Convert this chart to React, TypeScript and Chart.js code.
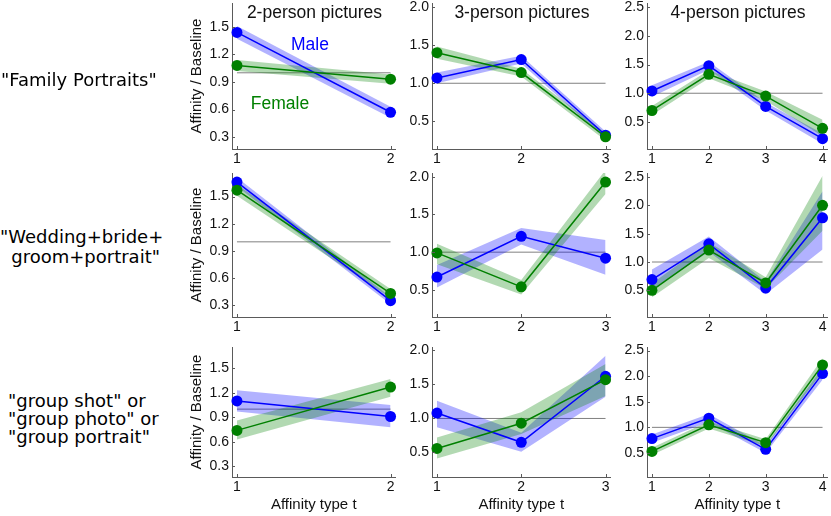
import React, { useEffect, useRef } from "react";
import { Chart, registerables } from "chart.js";

Chart.register(...registerables);

// ---------- text ----------
const rowLabels = [
  ['"Family Portraits"'],
  ['"Wedding+bride+', 'groom+portrait"'],
  ['"group shot" or', '"group photo" or', '"group portrait"'],
];
const colTitles = ["2-person pictures", "3-person pictures", "4-person pictures"];
const xTitle = "Affinity type t";
const yTitle = "Affinity / Baseline";
const maleLabel = "Male";
const femaleLabel = "Female";

// ---------- axes ----------
const xCategoriesByCol = [[1, 2], [1, 2, 3], [1, 2, 3, 4]];
const yTicksByCol = [
  [0.3, 0.6, 0.9, 1.2, 1.5],
  [0.5, 1.0, 1.5, 2.0],
  [0.5, 1.0, 1.5, 2.0, 2.5],
];
const yMinByCol = [0.17, 0.14, 0.03];
const yMaxByCol = [1.76, 2.05, 2.57];
const baselineValue = 1.0;

// ---------- "Family Portraits" ----------
const familyMale = [[1.44, 0.57], [1.07, 1.31, 0.32], [1.04, 1.48, 0.77, 0.21]];
const familyMaleLo = [[1.37, 0.51], [1.0, 1.26, 0.27], [0.94, 1.41, 0.7, 0.12]];
const familyMaleHi = [[1.51, 0.63], [1.14, 1.36, 0.37], [1.14, 1.55, 0.84, 0.3]];
const familyFemale = [[1.08, 0.93], [1.4, 1.14, 0.3], [0.7, 1.33, 0.95, 0.39]];
const familyFemaleLo = [[1.02, 0.88], [1.32, 1.09, 0.25], [0.62, 1.26, 0.87, 0.25]];
const familyFemaleHi = [[1.14, 0.98], [1.48, 1.19, 0.35], [0.78, 1.4, 1.03, 0.54]];

// ---------- "Wedding+bride+groom+portrait" ----------
const weddingMale = [[1.66, 0.35], [0.67, 1.21, 0.92], [0.69, 1.32, 0.54, 1.78]];
const weddingMaleLo = [[1.61, 0.31], [0.53, 1.1, 0.7], [0.52, 1.18, 0.43, 1.22]];
const weddingMaleHi = [[1.71, 0.39], [0.83, 1.32, 1.16], [0.87, 1.45, 0.65, 2.25]];
const weddingFemale = [[1.57, 0.43], [0.99, 0.54, 1.93], [0.5, 1.21, 0.63, 2.0]];
const weddingFemaleLo = [[1.51, 0.38], [0.84, 0.44, 1.77], [0.38, 1.07, 0.53, 1.55]];
const weddingFemaleHi = [[1.63, 0.48], [1.11, 0.63, 2.09], [0.62, 1.35, 0.73, 2.52]];

// ---------- "group shot / photo / portrait" ----------
const groupMale = [[1.1, 0.91], [1.08, 0.65, 1.62], [0.78, 1.18, 0.57, 2.05]];
const groupMaleLo = [[0.97, 0.78], [0.87, 0.51, 1.32], [0.7, 1.1, 0.5, 1.93]];
const groupMaleHi = [[1.23, 1.05], [1.26, 0.79, 1.92], [0.86, 1.26, 0.64, 2.17]];
const groupFemale = [[0.74, 1.27], [0.56, 0.93, 1.57], [0.53, 1.05, 0.7, 2.22]];
const groupFemaleLo = [[0.63, 1.15], [0.41, 0.77, 1.33], [0.46, 0.98, 0.63, 2.08]];
const groupFemaleHi = [[0.86, 1.37], [0.72, 1.09, 1.8], [0.6, 1.12, 0.77, 2.35]];

const maleByRow = [familyMale, weddingMale, groupMale];
const maleLoByRow = [familyMaleLo, weddingMaleLo, groupMaleLo];
const maleHiByRow = [familyMaleHi, weddingMaleHi, groupMaleHi];
const femaleByRow = [familyFemale, weddingFemale, groupFemale];
const femaleLoByRow = [familyFemaleLo, weddingFemaleLo, groupFemaleLo];
const femaleHiByRow = [familyFemaleHi, weddingFemaleHi, groupFemaleHi];

// ---------- layout / style ----------
const COLS = [
  { L: 232, R: 397 },
  { L: 432, R: 612 },
  { L: 647, R: 829 },
];
const ROWS = [
  { T: 3, B: 149 },
  { T: 173, B: 317 },
  { T: 347, B: 477 },
];
const X_PAD_PX = 5;
const PAD_TOP = 12;
const PAD_RIGHT = 4;
const BLUE = "rgb(0,0,255)";
const GREEN = "rgb(0,128,0)";
const BLUE_BAND = "rgba(0,0,255,0.3)";
const GREEN_BAND = "rgba(0,128,0,0.3)";
const AXIS_COLOR = "#5a5a5a";
const BASE_COLOR = "#808080";
const FONT = "'Liberation Sans', Arial, Helvetica, sans-serif";

const pts = (xs: number[], ys: number[]) => xs.map((x, i) => ({ x, y: ys[i] }));

const innerTicks = {
  id: "innerTicks",
  afterDraw(chart: any) {
    const { ctx, chartArea: a, scales } = chart;
    ctx.save();
    ctx.strokeStyle = AXIS_COLOR;
    ctx.lineWidth = 1;
    scales.y.ticks.forEach((t: any) => {
      const py = Math.round(scales.y.getPixelForValue(t.value)) + 0.5;
      ctx.beginPath();
      ctx.moveTo(a.left, py);
      ctx.lineTo(a.left + 3, py);
      ctx.stroke();
    });
    scales.x.ticks.forEach((t: any) => {
      const px = Math.round(scales.x.getPixelForValue(t.value)) + 0.5;
      ctx.beginPath();
      ctx.moveTo(px, a.bottom);
      ctx.lineTo(px, a.bottom - 3);
      ctx.stroke();
    });
    ctx.restore();
  },
};

function Panel({ row, col }: { row: number; col: number }) {
  const ref = useRef<HTMLCanvasElement | null>(null);
  const { L, R } = COLS[col];
  const { T, B } = ROWS[row];
  const yW = col === 0 ? 47 : 30;
  const xH = row === 2 ? 39 : 22;
  const left = L - yW;
  const top = T - PAD_TOP;
  const width = R - L + yW + PAD_RIGHT;
  const height = B - T + PAD_TOP + xH;

  useEffect(() => {
    if (!ref.current) return;
    const xs = xCategoriesByCol[col];
    const n = xs.length;
    const ppu = (R - L - 2 * X_PAD_PX) / (n - 1);
    const xMin = 1 - X_PAD_PX / ppu;
    const xMax = n + X_PAD_PX / ppu;
    const yTicks = yTicksByCol[col];

    const lineDs = (label: string, ys: number[], color: string) => ({
      label,
      data: pts(xs, ys),
      borderColor: color,
      backgroundColor: color,
      borderWidth: 1.5,
      pointRadius: 5.5,
      pointBorderWidth: 0,
      pointBackgroundColor: color,
      fill: false,
      clip: false as any,
    });
    const hiDs = (label: string, ys: number[]) => ({
      label,
      data: pts(xs, ys),
      borderWidth: 0,
      borderColor: "rgba(0,0,0,0)",
      pointRadius: 0,
      fill: false,
      clip: false as any,
    });
    const loDs = (label: string, ys: number[], color: string) => ({
      label,
      data: pts(xs, ys),
      borderWidth: 0,
      borderColor: "rgba(0,0,0,0)",
      backgroundColor: color,
      pointRadius: 0,
      fill: "-1",
      clip: false as any,
    });

    const chart = new Chart(ref.current, {
      type: "line",
      data: {
        datasets: [
          lineDs("Female", femaleByRow[row][col], GREEN),
          lineDs("Male", maleByRow[row][col], BLUE),
          hiDs("Female upper", femaleHiByRow[row][col]),
          loDs("Female lower", femaleLoByRow[row][col], GREEN_BAND),
          hiDs("Male upper", maleHiByRow[row][col]),
          loDs("Male lower", maleLoByRow[row][col], BLUE_BAND),
          {
            label: "Baseline",
            data: [
              { x: xs[0], y: baselineValue },
              { x: xs[n - 1], y: baselineValue },
            ],
            borderColor: BASE_COLOR,
            borderWidth: 1,
            pointRadius: 0,
            fill: false,
          },
        ] as any,
      },
      options: {
        animation: false,
        responsive: false,
        events: [],
        layout: { padding: { top: PAD_TOP, right: PAD_RIGHT, left: 0, bottom: 0 } },
        plugins: {
          legend: { display: false },
          tooltip: { enabled: false },
          title: { display: false },
        },
        scales: {
          x: {
            type: "linear",
            min: xMin,
            max: xMax,
            grid: { display: false, drawTicks: false },
            border: { display: true, color: AXIS_COLOR, width: 1 },
            afterBuildTicks: (s: any) => {
              s.ticks = xs.map((v) => ({ value: v }));
            },
            afterFit: (s: any) => {
              s.height = xH;
            },
            ticks: {
              autoSkip: false,
              maxRotation: 0,
              padding: 2,
              color: "#111",
              font: { family: FONT, size: 14 },
              callback: (v: any) => String(v),
            },
            title: {
              display: row === 2,
              text: xTitle,
              color: "#111",
              font: { family: FONT, size: 15 },
              padding: { top: 0, bottom: 2 },
            },
          },
          y: {
            type: "linear",
            min: yMinByCol[col],
            max: yMaxByCol[col],
            grid: { display: false, drawTicks: false },
            border: { display: true, color: AXIS_COLOR, width: 1 },
            afterBuildTicks: (s: any) => {
              s.ticks = yTicks.map((v) => ({ value: v }));
            },
            afterFit: (s: any) => {
              s.width = yW;
            },
            ticks: {
              autoSkip: false,
              padding: 3,
              color: "#111",
              font: { family: FONT, size: 14 },
              callback: (v: any) => Number(v).toFixed(1),
            },
            title: {
              display: col === 0,
              text: yTitle,
              color: "#111",
              font: { family: FONT, size: 15 },
              padding: { top: 3, bottom: 0 },
            },
          },
        },
      },
      plugins: [innerTicks],
    } as any);
    return () => chart.destroy();
  }, [row, col]);

  return (
    <canvas
      ref={ref}
      width={width}
      height={height}
      style={{ position: "absolute", left, top, width, height }}
    />
  );
}

export default function App() {
  const panels = [];
  for (let r = 0; r < 3; r++) for (let c = 0; c < 3; c++) panels.push(<Panel key={`${r}-${c}`} row={r} col={c} />);
  const rowLabelStyle: React.CSSProperties = {
    position: "absolute",
    fontFamily: "'DejaVu Sans', Verdana, sans-serif",
    fontSize: 18,
    color: "#000",
    whiteSpace: "nowrap",
  };
  return (
    <div
      style={{
        position: "absolute",
        left: 0,
        top: 0,
        width: 831,
        height: 516,
        overflow: "hidden",
        background: "#fff",
      }}
    >
      {panels}
      {colTitles.map((t, c) => (
        <div
          key={t}
          style={{
            position: "absolute",
            left: COLS[c].L,
            width: COLS[c].R - COLS[c].L,
            top: 2,
            lineHeight: "20px",
            textAlign: "center",
            fontFamily: FONT,
            fontSize: 17.5,
            color: "#111",
            whiteSpace: "nowrap",
          }}
        >
          {t}
        </div>
      ))}
      <div
        style={{
          position: "absolute",
          left: 280,
          width: 60,
          top: 34,
          lineHeight: "20px",
          textAlign: "center",
          fontFamily: FONT,
          fontSize: 17.5,
          color: BLUE,
        }}
      >
        {maleLabel}
      </div>
      <div
        style={{
          position: "absolute",
          left: 240,
          width: 80,
          top: 93,
          lineHeight: "20px",
          textAlign: "center",
          fontFamily: FONT,
          fontSize: 17.5,
          color: GREEN,
        }}
      >
        {femaleLabel}
      </div>
      <div style={{ ...rowLabelStyle, left: 1, top: 69, lineHeight: "22px" }}>
        {rowLabels[0].map((l) => (
          <div key={l}>{l}</div>
        ))}
      </div>
      <div style={{ ...rowLabelStyle, left: 0, width: 160, top: 227, lineHeight: "20px", textAlign: "right" }}>
        {rowLabels[1].map((l) => (
          <div key={l}>{l}</div>
        ))}
      </div>
      <div style={{ ...rowLabelStyle, left: 8, top: 392, lineHeight: "18px" }}>
        {rowLabels[2].map((l) => (
          <div key={l}>{l}</div>
        ))}
      </div>
    </div>
  );
}
